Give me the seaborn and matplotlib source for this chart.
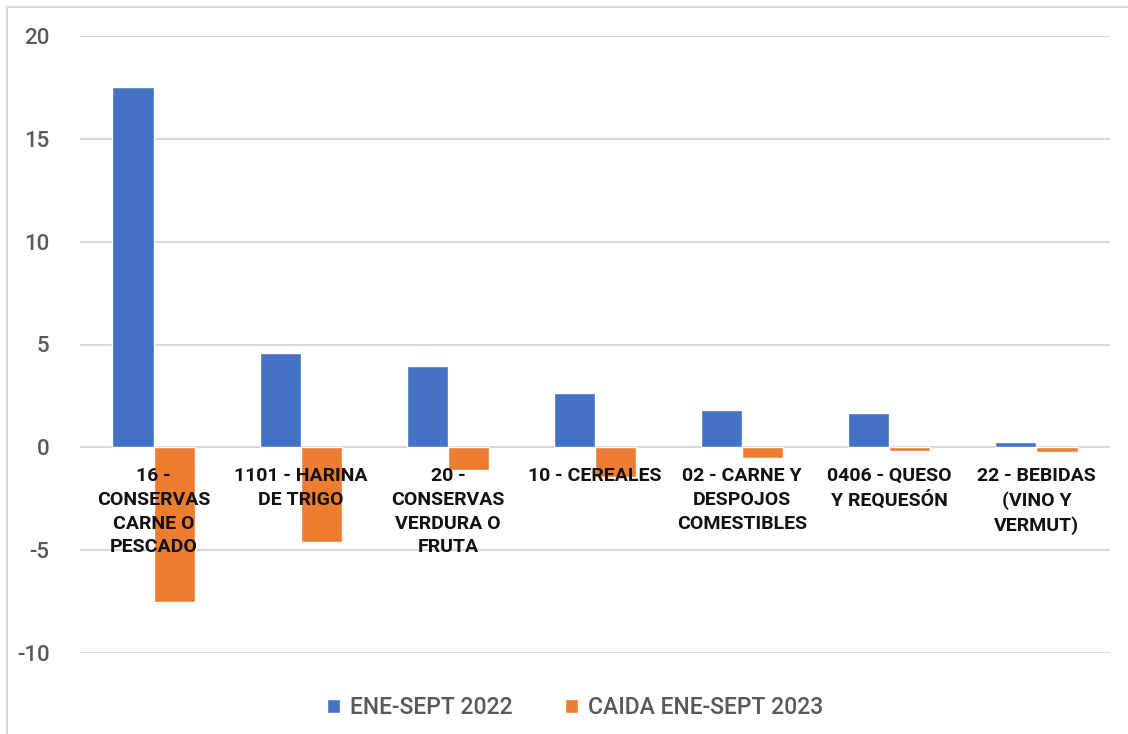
import pandas as pd
import matplotlib.pyplot as plt
import seaborn as sns
from matplotlib.patches import Rectangle

categories = [
    "16 -\nCONSERVAS\nCARNE O\nPESCADO",
    "1101 - HARINA\nDE TRIGO",
    "20 -\nCONSERVAS\nVERDURA O\nFRUTA",
    "10 - CEREALES",
    "02 - CARNE Y\nDESPOJOS\nCOMESTIBLES",
    "0406 - QUESO\nY REQUESÓN",
    "22 - BEBIDAS\n(VINO Y\nVERMUT)",
]
ene_sept_2022 = [17.5, 4.6, 3.95, 2.65, 1.8, 1.65, 0.25]
caida_2023 = [-7.5, -4.6, -1.1, -1.45, -0.5, -0.2, -0.25]
series = ["ENE-SEPT 2022", "CAIDA ENE-SEPT 2023"]
colors = ["#4472C4", "#ED7D31"]

df = pd.DataFrame({
    "cat": categories * 2,
    "serie": [series[0]] * len(categories) + [series[1]] * len(categories),
    "valor": ene_sept_2022 + caida_2023,
})

sns.set_theme(style="white")
plt.rcParams["font.family"] = ["Roboto", "DejaVu Sans"]
plt.rcParams["axes.unicode_minus"] = False

fig = plt.figure(figsize=(11.28, 7.34), dpi=100)
ax = fig.add_axes([80 / 1128, 1 - 653 / 734, 1030 / 1128, 617 / 734])

sns.barplot(data=df, x="cat", y="valor", hue="serie", palette=colors,
            width=0.56, saturation=1, ax=ax, legend=True, zorder=2)

ax.set_ylim(-10, 20)
ax.set_yticks(range(-10, 21, 5))
ax.set_xlim(-0.5, len(categories) - 0.5)
ax.grid(axis="y", color="#d9d9d9", linewidth=1.5, zorder=0)
ax.set_axisbelow(True)
for s in ax.spines.values():
    s.set_visible(False)
ax.tick_params(axis="y", labelsize=16, labelcolor="#595959", pad=22, length=0)
for t in ax.get_yticklabels():
    t.set_fontweight("medium")
ax.set_xticks([])
ax.set_xlabel("")
ax.set_ylabel("")

# category labels just below the zero line, over the bars
for i, lab in enumerate(categories):
    ax.annotate(lab, xy=(i, 0), xytext=(0, -14), textcoords="offset points",
                ha="center", va="top", fontsize=14, fontweight="bold",
                color="#111111", linespacing=1.42, zorder=5)

leg = ax.legend(loc="upper center", bbox_to_anchor=(0.481, -0.036), ncol=2,
                frameon=False, fontsize=16.5, handlelength=0.55, handleheight=0.55,
                handletextpad=0.45, columnspacing=2.3)
for t in leg.get_texts():
    t.set_color("#595959")
    t.set_fontweight("medium")

fig.patches.append(Rectangle((7 / 1128, -0.05), 1.2, 1 - 7 / 734 + 0.05,
                             transform=fig.transFigure, fill=False,
                             edgecolor="#d9d9d9", linewidth=1.5))

fig.savefig("out.png", dpi=100)
